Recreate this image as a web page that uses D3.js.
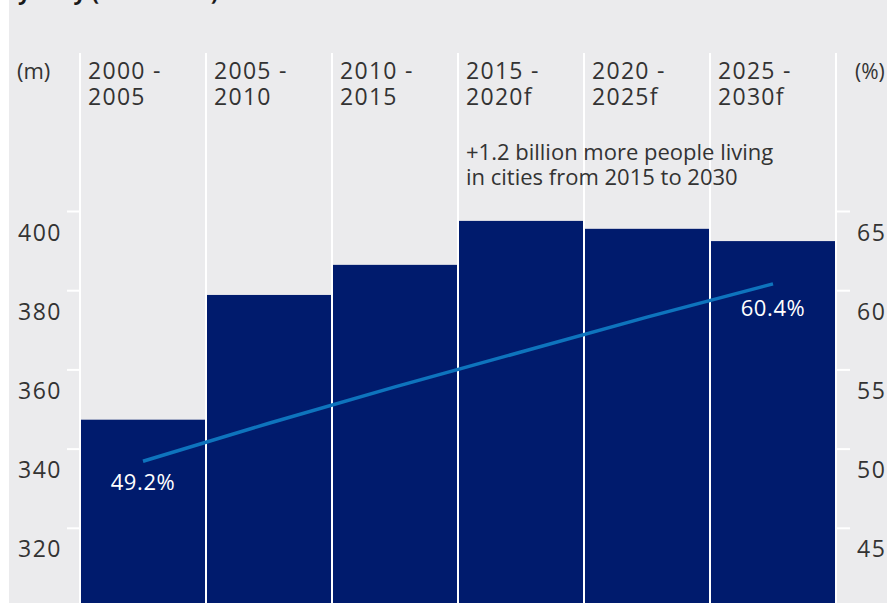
<!DOCTYPE html>
<html>
<head>
<meta charset="utf-8">
<title>urban population chart</title>
<script src="https://cdn.jsdelivr.net/npm/d3@7"></script>
<style>
  body {margin:0;background:#fff;}
  svg text {font-family:"Open Sans", sans-serif;}
</style>
</head>
<body>
<svg id="chart" width="887" height="603"></svg>
<script>
// data
var periods = [["2000 -","2005"],["2005 -","2010"],["2010 -","2015"],["2015 -","2020f"],["2020 -","2025f"],["2025 -","2030f"]];
var popGrowth = [347.3, 378.8, 386.4, 397.5, 395.5, 392.4];   // (m) per year
var urbanShare = [49.2, 51.6, 53.9, 56.1, 58.3, 60.4];        // (%)
var leftTicks = [320, 340, 360, 380, 400];
var rightTicks = [45, 50, 55, 60, 65];
var note = ["+1.2 billion more people living", "in cities from 2015 to 2030"];

var svg = d3.select("#chart");
var keys = periods.map(function(d){return d.join(" ");});

var x = d3.scaleBand().domain(keys).range([80, 836]).padding(0);
var yL = d3.scaleLinear().domain([300, 400]).range([607, 211]);
var yR = d3.scaleLinear().domain([40, 65]).range([607, 211]);

// grey panel
svg.append("rect").attr("x", 9).attr("y", 0).attr("width", 878).attr("height", 603).attr("fill", "#ebebed");

// cut-off title
svg.append("text").attr("x", 18).attr("y", 0).attr("font-size", 22).attr("font-weight", "bold")
  .attr("fill", "#1a1a1a").text("yearly (2000–2030)");

// bars
svg.selectAll("rect.bar").data(popGrowth).enter().append("rect").attr("class", "bar")
  .attr("x", function(d,i){return x(keys[i]);})
  .attr("width", x.bandwidth())
  .attr("y", function(d){return yL(d);})
  .attr("height", function(d){return yL(300) - yL(d);})
  .attr("fill", "#001b6d");

// white column dividers
var edges = keys.map(function(k){return x(k);}).concat([x.range()[1]]);
svg.selectAll("line.div").data(edges).enter().append("line").attr("class", "div")
  .attr("x1", function(d){return d;}).attr("x2", function(d){return d;})
  .attr("y1", 53).attr("y2", 603).attr("stroke", "#fff").attr("stroke-width", 2);

// left axis
var gl = svg.append("g").attr("transform", "translate(80,0)")
  .call(d3.axisLeft(yL).tickValues(leftTicks).tickSize(13).tickPadding(0).tickFormat(d3.format("d")));
gl.select(".domain").remove();
gl.selectAll(".tick line").attr("stroke", "#fff").attr("stroke-width", 2);
gl.selectAll(".tick text").attr("x", -62).attr("dy", 29).attr("text-anchor", "start")
  .attr("font-size", 23).attr("letter-spacing", 1.5).attr("fill", "#333");

// right axis
var gr = svg.append("g").attr("transform", "translate(836,0)")
  .call(d3.axisRight(yR).tickValues(rightTicks).tickSize(14).tickPadding(0).tickFormat(d3.format("d")));
gr.select(".domain").remove();
gr.selectAll(".tick line").attr("stroke", "#fff").attr("stroke-width", 2);
gr.selectAll(".tick text").attr("x", 21).attr("dy", 29).attr("text-anchor", "start")
  .attr("font-size", 23).attr("letter-spacing", 1.5).attr("fill", "#333");

// unit labels
svg.append("text").attr("x", 17).attr("y", 79).attr("font-size", 22).attr("fill", "#333").text("(m)");
svg.append("text").attr("x", 855).attr("y", 79).attr("font-size", 21).attr("fill", "#333").text("(%)");

// category labels
var cat = svg.selectAll("text.cat").data(periods).enter().append("text").attr("class", "cat")
  .attr("x", function(d,i){return x(keys[i]) + 8;})
  .attr("y", 79).attr("font-size", 23).attr("letter-spacing", 1.3).attr("fill", "#333");
cat.selectAll("tspan").data(function(d){return d;}).enter().append("tspan")
  .attr("x", function(){return d3.select(this.parentNode).attr("x");})
  .attr("dy", function(d,i){return i ? 26 : 0;})
  .text(function(d){return d;});

// annotation
var nt = svg.append("text").attr("x", 466).attr("y", 160).attr("font-size", 22).attr("fill", "#333");
nt.selectAll("tspan").data(note).enter().append("tspan").attr("x", 466)
  .attr("dy", function(d,i){return i ? 25 : 0;}).text(function(d){return d;});

// urban share line
var line = d3.line()
  .x(function(d,i){return x(keys[i]) + x.bandwidth()/2;})
  .y(function(d){return yR(d);});
svg.append("path").datum(urbanShare).attr("d", line).attr("fill", "none")
  .attr("stroke", "#0e74bd").attr("stroke-width", 3.5);

// end labels
var last = urbanShare.length - 1;
svg.append("text").attr("x", x(keys[0]) + x.bandwidth()/2).attr("y", yR(urbanShare[0]) + 29)
  .attr("text-anchor", "middle").attr("font-size", 22).attr("letter-spacing", 0.6).attr("fill", "#fff").text(urbanShare[0].toFixed(1) + "%");
svg.append("text").attr("x", x(keys[last]) + x.bandwidth()/2).attr("y", yR(urbanShare[last]) + 32)
  .attr("text-anchor", "middle").attr("font-size", 22).attr("letter-spacing", 0.6).attr("fill", "#fff").text(urbanShare[last].toFixed(1) + "%");
</script>
</body>
</html>
